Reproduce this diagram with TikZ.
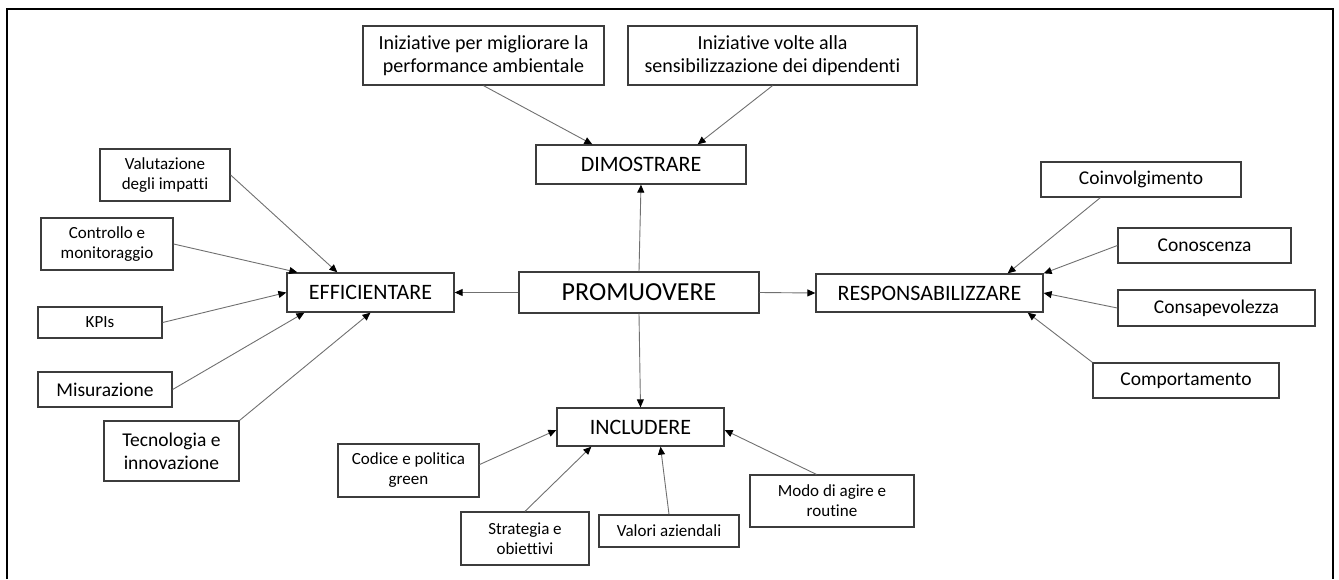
\documentclass[tikz,border=0pt]{standalone}
\usepackage{fontspec}
\setmainfont{Carlito}[Ligatures=CommonOff]
\usetikzlibrary{arrows.meta}
\definecolor{boxline}{HTML}{3C3C3C}
\definecolor{linkgray}{HTML}{707070}
\begin{document}
\begin{tikzpicture}[x=1pt,y=-1pt,
  box/.style={draw=boxline, line width=1.3pt, inner sep=0pt, align=center, text=black},
  fsmall/.style={font=\fontsize{17}{20}\selectfont},
  fmid/.style={font=\fontsize{19.5}{23.3}\selectfont},
  ftop/.style={font=\fontsize{20}{23.3}\selectfont},
  fhead/.style={font=\fontsize{22}{26}\selectfont},
  fmain/.style={font=\fontsize{26}{30}\selectfont},
  link/.style={draw=linkgray, line width=0.9pt, -{Triangle[length=8pt,width=7pt,color=black]}}
]
% canvas and open frame
\useasboundingbox (0,0) rectangle (1339,579);
\draw[line width=2pt, black] (7,579) -- (7,9) -- (1333,9) -- (1333,579);

% central node and the four main actions
\node[box, fmain, minimum width=240pt, minimum height=41pt] (promo) at (639,292.5) {PROMUOVERE};
\node[box, fhead, minimum width=210pt, minimum height=39pt] (dim) at (641,164.5) {DIMOSTRARE};
\node[box, fhead, minimum width=167pt, minimum height=39pt] (eff) at (370.5,292.5) {EFFICIENTARE};
\node[box, fhead, minimum width=227pt, minimum height=38pt] (resp) at (929.5,293) {RESPONSABILIZZARE};
\node[box, fhead, minimum width=167pt, minimum height=38pt] (incl) at (640.5,427) {INCLUDERE};

% DIMOSTRARE inputs
\node[box, ftop, minimum width=241pt, minimum height=59pt] (ini1) at (483.5,55.5) {Iniziative per migliorare la\\performance ambientale};
\node[box, ftop, minimum width=289pt, minimum height=59pt] (ini2) at (772.5,55.5) {Iniziative volte alla\\sensibilizzazione dei dipendenti};

% EFFICIENTARE inputs
\node[box, fsmall, minimum width=130pt, minimum height=52pt] (val) at (165,175) {Valutazione\\degli impatti};
\node[box, fsmall, minimum width=132pt, minimum height=52pt] (con) at (107,244) {Controllo e\\monitoraggio};
\node[box, fsmall, minimum width=124pt, minimum height=31pt] (kpi) at (100,322.5) {KPIs};
\node[box, fmid, minimum width=134pt, minimum height=35pt] (mis) at (105,389.5) {Misurazione};
\node[box, fmid, minimum width=135pt, minimum height=60pt] (tec) at (171.5,451) {Tecnologia e\\innovazione};

% INCLUDERE inputs
\node[box, fsmall, minimum width=141pt, minimum height=53pt] (cod) at (408.5,470.5) {Codice e politica\\green};
\node[box, fsmall, minimum width=128pt, minimum height=53pt] (str) at (525,538.5) {Strategia e\\obiettivi};
\node[box, fsmall, minimum width=140pt, minimum height=32pt] (vlr) at (669,531) {Valori aziendali};
\node[box, fsmall, minimum width=164pt, minimum height=52pt] (modo) at (832,501) {Modo di agire e\\routine};

% RESPONSABILIZZARE inputs
\node[box, fmid, minimum width=200pt, minimum height=35pt] (coi) at (1141,179.5) {Coinvolgimento};
\node[box, fmid, minimum width=173pt, minimum height=35pt] (cono) at (1204.5,245.5) {Conoscenza};
\node[box, fmid, minimum width=197pt, minimum height=36pt] (cons) at (1216.5,308) {Consapevolezza};
\node[box, fmid, minimum width=186pt, minimum height=35pt] (comp) at (1186,380.5) {Comportamento};

% central arrows
\draw[link] (promo.north) -- (dim.south);
\draw[link] (promo.south) -- (incl.north);
\draw[link] (promo.west) -- (eff.east);
\draw[link] (promo.east) -- (resp.west);

% into DIMOSTRARE
\draw[link] (ini1.south) -- ([xshift=57pt]dim.north west);
\draw[link] (ini2.south) -- ([xshift=-49pt]dim.north east);

% into EFFICIENTARE
\draw[link] (val.east) -- ([xshift=51pt]eff.north west);
\draw[link] (con.east) -- ([xshift=11pt]eff.north west);
\draw[link] (kpi.east) -- (eff.west);
\draw[link] (mis.east) -- ([xshift=18pt]eff.south west);
\draw[link] (tec.north east) -- (eff.south);

% into INCLUDERE
\draw[link] ([yshift=6pt]cod.east) -- ([yshift=-3pt]incl.west);
\draw[link] (str.north) -- ([xshift=35pt]incl.south west);
\draw[link] (vlr.north) -- ([xshift=20pt]incl.south);
\draw[link] ([xshift=67pt]modo.north west) -- ([yshift=-3pt]incl.east);

% into RESPONSABILIZZARE
\draw[link] ([xshift=60pt]coi.south west) -- ([xshift=-36pt]resp.north east);
\draw[link] (cono.west) -- (resp.north east);
\draw[link] (cons.west) -- (resp.east);
\draw[link] (comp.north west) -- ([xshift=-16pt]resp.south east);
\end{tikzpicture}
\end{document}
